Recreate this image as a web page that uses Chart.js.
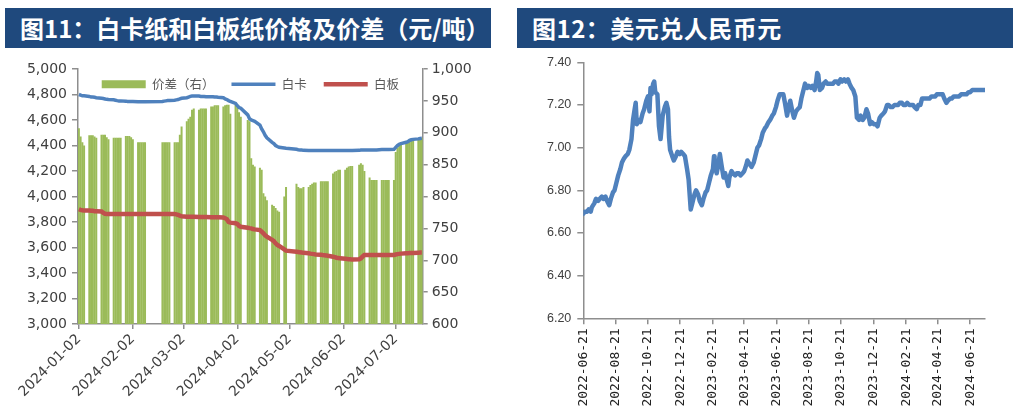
<!DOCTYPE html>
<html><head><meta charset="utf-8">
<script src="https://cdn.jsdelivr.net/npm/chart.js@4.4.1/dist/chart.umd.min.js"></script>
<style>
html,body{margin:0;padding:0;background:#fff;}
body{width:1022px;height:408px;position:relative;overflow:hidden;}
.bar{position:absolute;top:8px;height:40px;background:#1f497d;color:#fff;font-family:"Noto Sans CJK SC",sans-serif;font-weight:700;font-size:24px;line-height:40px;white-space:nowrap;box-sizing:border-box;}
#t1{left:5px;width:486px;padding-left:15px;}
#t2{left:517px;width:496px;padding-left:15px;letter-spacing:0.5px;}
.box{position:absolute;top:47px;width:510px;height:361px;}
#c1box{left:0;}
#c2box{left:512px;}
</style></head>
<body>
<div class="bar" id="t1">图11：白卡纸和白板纸价格及价差（元/吨）</div>
<div class="bar" id="t2">图12：美元兑人民币元</div>
<div class="box" id="c1box"><canvas id="c1" width="510" height="361"></canvas></div>
<div class="box" id="c2box"><canvas id="c2" width="510" height="361"></canvas></div>
<script>
// ================= Figure 11 data (one row per week, Mon..Fri; null = no quote) =================
const f11WeekStart = '2024-01-01';
const baikaWeekly = [
  [null,4800,4795,4790,4790],[4785,4780,4780,4778,4775],[4770,4768,4765,4762,4760],
  [4758,4755,4752,4750,4750],[4748,4746,4745,4745,4745],[4744,4744,4744,4744,4744],
  [null,null,null,null,null],[4745,4748,4750,4752,4752],[4755,4758,4760,4765,4770],
  [4775,4780,4785,4788,4788],[4788,4785,4785,4785,4783],[4783,4782,4780,4780,4778],
  [4775,4765,4760,4752,4745],[4730,4712,4698,4692,null],[4640,4610,4600,4595,4590],
  [4560,4530,4508,4480,4460],[4425,4415,4400,4392,4386],[4380,4378,null,null,null],
  [4370,4367,4365,4365,4362],[4360,4360,4360,4360,4360],[4360,4360,4360,4360,4360],
  [4360,4360,4360,4360,4360],[4360,4360,4360,4360,4360],[null,4362,4365,4365,4365],
  [4365,4365,4365,4365,4365],[4368,4368,4368,4368,4368],[4370,4385,4400,4410,4415],
  [4425,4430,4440,4445,4448],[4452,4455,4456]
];
const baibanWeekly = [
  [null,3900,3895,3892,3890],[3890,3888,3888,3885,3885],[3882,3872,3865,3863,3863],
  [3863,3863,3863,3863,3863],[3863,3863,3863,3863,3863],[3863,3863,3863,3863,3863],
  [null,null,null,null,null],[3863,3863,3863,3863,3863],[3862,3860,3855,3850,3845],
  [3842,3842,3842,3842,3842],[3840,3840,3840,3840,3840],[3838,3838,3838,3838,3838],
  [3835,3830,3822,3800,3795],[3790,3785,3770,3763,null],[3755,3752,3750,3745,3742],
  [3737,3725,3711,3695,3685],[3660,3650,3633,3620,3612],[3585,3575,null,null,null],
  [3567,3565,3562,3560,3558],[3555,3552,3550,3548,3545],[3543,3541,3540,3538,3535],
  [3528,3525,3520,3518,3515],[3512,3510,3508,3507,3505],[null,3508,3515,3530,3541],
  [3541,3541,3541,3541,3541],[3541,3541,3541,3541,3541],[3542,3545,3548,3550,3552],
  [3555,3555,3556,3556,3557],[3558,3560,3560]
];
const spreadWeekly = [
  [null,907,894,885,880],[896,896,896,894,892],[897,897,897,893,890],
  [892,892,892,892,892],[895,895,895,893,890],[885,885,885,885,885],
  [null,null,null,null,null],[885,885,885,885,885],[885,885,885,897,910],
  [918,922,925,936,938],[936,938,938,938,938],[941,941,943,943,943],
  [941,943,944,944,930],[944,940,932,925,null],[920,918,860,850,847],
  [845,842,805,800,794],[787,785,782,778,776],[800,815,null,null,null],
  [820,815,813,813,815],[815,818,820,822,822],[824,824,824,824,824],
  [836,839,840,842,842],[842,845,847,848,848],[null,850,852,850,840],
  [830,826,826,826,826],[826,826,826,826,826],[826,870,876,880,882],
  [886,888,890,890,890],[890,892,892]
];
const f11TickLabels = ['2024-01-02','2024-02-02','2024-03-02','2024-04-02','2024-05-02','2024-06-02','2024-07-02'];
const f11Series = ['价差（右）','白卡','白板'];

// ================= Figure 12 data =================
const fxBase = '2022-06-21';
const fxDates = [
'2022-06-21','2022-06-24','2022-06-28','2022-07-01','2022-07-05','2022-07-07','2022-07-12','2022-07-15','2022-07-19','2022-07-22',
'2022-07-26','2022-07-29','2022-08-02','2022-08-05','2022-08-09','2022-08-12','2022-08-16','2022-08-19','2022-08-23','2022-08-26',
'2022-08-30','2022-09-02','2022-09-06','2022-09-09','2022-09-13','2022-09-16','2022-09-20','2022-09-23','2022-09-26','2022-09-28',
'2022-09-30','2022-10-04','2022-10-07','2022-10-11','2022-10-14','2022-10-18','2022-10-21','2022-10-24','2022-10-26','2022-10-28',
'2022-10-31','2022-11-02','2022-11-04','2022-11-08','2022-11-11','2022-11-14','2022-11-18','2022-11-22','2022-11-25','2022-11-28',
'2022-11-30','2022-12-02','2022-12-06','2022-12-09','2022-12-13','2022-12-16','2022-12-20','2022-12-23','2022-12-27','2022-12-30',
'2023-01-03','2023-01-06','2023-01-10','2023-01-13','2023-01-17','2023-01-20','2023-01-24','2023-01-27','2023-01-31','2023-02-03',
'2023-02-07','2023-02-10','2023-02-14','2023-02-17','2023-02-21','2023-02-23','2023-02-24','2023-02-28','2023-03-03','2023-03-06',
'2023-03-09','2023-03-13','2023-03-16','2023-03-20','2023-03-22','2023-03-24','2023-03-28','2023-03-31','2023-04-04','2023-04-07',
'2023-04-11','2023-04-14','2023-04-18','2023-04-21','2023-04-25','2023-04-27','2023-05-02','2023-05-05','2023-05-09','2023-05-12',
'2023-05-16','2023-05-19','2023-05-23','2023-05-26','2023-05-30','2023-06-02','2023-06-06','2023-06-09','2023-06-13','2023-06-16',
'2023-06-20','2023-06-23','2023-06-27','2023-06-30','2023-07-04','2023-07-07','2023-07-11','2023-07-14','2023-07-17','2023-07-21',
'2023-07-24','2023-07-28','2023-07-31','2023-08-04','2023-08-07','2023-08-11','2023-08-14','2023-08-18','2023-08-21','2023-08-25',
'2023-08-28','2023-09-01','2023-09-04','2023-09-06','2023-09-08','2023-09-11','2023-09-15','2023-09-18','2023-09-22','2023-09-25',
'2023-09-29','2023-10-06','2023-10-09','2023-10-13','2023-10-16','2023-10-20','2023-10-23','2023-10-27','2023-10-30','2023-11-03',
'2023-11-06','2023-11-10','2023-11-13','2023-11-17','2023-11-20','2023-11-24','2023-11-27','2023-12-01','2023-12-04','2023-12-08',
'2023-12-11','2023-12-15','2023-12-18','2023-12-22','2023-12-26','2023-12-29','2024-01-02','2024-01-05','2024-01-09','2024-01-12',
'2024-01-16','2024-01-19','2024-01-23','2024-01-26','2024-01-30','2024-02-02','2024-02-06','2024-02-09','2024-02-13','2024-02-16',
'2024-02-20','2024-02-23','2024-02-27','2024-03-01','2024-03-05','2024-03-08','2024-03-12','2024-03-15','2024-03-19','2024-03-22',
'2024-03-26','2024-03-29','2024-04-02','2024-04-05','2024-04-09','2024-04-12','2024-04-16','2024-04-19','2024-04-23','2024-04-26',
'2024-04-30','2024-05-03','2024-05-07','2024-05-10','2024-05-14','2024-05-17','2024-05-21','2024-05-24','2024-05-28','2024-05-31',
'2024-06-04','2024-06-07','2024-06-11','2024-06-14','2024-06-18','2024-06-21','2024-06-25','2024-06-28','2024-07-02','2024-07-05',
'2024-07-09','2024-07-12','2024-07-16','2024-07-19'
];
const fxValues = [
6.69,6.70,6.70,6.71,6.70,6.72,6.74,6.76,6.75,6.76,
6.77,6.76,6.77,6.75,6.73,6.76,6.79,6.80,6.84,6.87,
6.90,6.93,6.95,6.96,6.97,6.99,7.04,7.13,7.18,7.21,
7.11,7.13,7.12,7.16,7.18,7.22,7.24,7.17,7.28,7.25,
7.30,7.31,7.26,7.25,7.10,7.04,7.15,7.19,7.21,7.18,
7.05,6.99,6.96,6.94,6.96,6.98,6.97,6.98,6.97,6.96,
6.90,6.85,6.71,6.74,6.78,6.80,6.78,6.75,6.73,6.76,
6.79,6.80,6.84,6.87,6.90,6.96,6.93,6.88,6.92,6.97,
6.92,6.86,6.88,6.84,6.82,6.86,6.89,6.88,6.87,6.88,
6.88,6.87,6.88,6.89,6.92,6.94,6.92,6.91,6.93,6.96,
7.00,7.01,7.04,7.07,7.09,7.10,7.12,7.13,7.15,7.16,
7.19,7.22,7.25,7.25,7.25,7.21,7.15,7.19,7.22,7.17,
7.14,7.17,7.18,7.19,7.23,7.27,7.30,7.28,7.29,7.28,
7.29,7.27,7.31,7.35,7.34,7.27,7.28,7.30,7.31,7.30,
7.30,7.30,7.31,7.31,7.30,7.32,7.31,7.32,7.31,7.32,
7.30,7.28,7.27,7.24,7.14,7.13,7.15,7.13,7.14,7.18,
7.16,7.11,7.12,7.11,7.11,7.10,7.14,7.15,7.16,7.17,
7.20,7.20,7.19,7.19,7.20,7.20,7.20,7.21,7.21,7.20,
7.20,7.21,7.20,7.20,7.20,7.19,7.18,7.20,7.20,7.23,
7.23,7.23,7.23,7.23,7.24,7.24,7.24,7.25,7.25,7.25,
7.25,7.23,7.21,7.22,7.23,7.23,7.24,7.24,7.24,7.24,
7.25,7.25,7.25,7.25,7.26,7.26,7.27,7.27,7.27,7.27,
7.27,7.27,7.27,7.27
];
const fxTickLabels = ['2022-06-21','2022-08-21','2022-10-21','2022-12-21','2023-02-21','2023-04-21','2023-06-21',
  '2023-08-21','2023-10-21','2023-12-21','2024-02-21','2024-04-21','2024-06-21'];
const fxLastDate = '2024-07-19';

// ================= helpers =================
function dayOffset(s, base){
  const a = s.split('-').map(Number), b = base.split('-').map(Number);
  return Math.round((Date.UTC(a[0],a[1]-1,a[2]) - Date.UTC(b[0],b[1]-1,b[2]))/86400000);
}
function weeklyPoints(weeks){
  const pts = [];
  weeks.forEach((w, wi) => w.forEach((v, di) => { if (v !== null) pts.push({x: wi*7 + di, y: v}); }));
  return pts;
}
const fmt = v => Number(v).toLocaleString('en-US');
const axisColor = '#8e8e8e';
const labelColor = '#404040';

// ================= Figure 11 =================
const f11TickDays = f11TickLabels.map(s => dayOffset(s, f11WeekStart));
const f11TickMap = {}; f11TickDays.forEach((d,i) => f11TickMap[d] = f11TickLabels[i]);

// legend is laid out horizontally (position top) but takes no space and is drawn inside the plot
const legendInside = {
  id: 'legendInside',
  beforeLayout(chart){
    const lg = chart.legend;
    if (lg && !lg._insidePatched){
      const origFit = lg.fit.bind(lg);
      lg.fit = function(){ origFit(); this._realHeight = this.height; this.height = 0; };
      lg._insidePatched = true;
    }
  },
  afterLayout(chart){
    const lg = chart.legend; if (!lg) return;
    const ca = chart.chartArea;
    lg.left = ca.left; lg.right = ca.right; lg.width = ca.right - ca.left;
    lg.top = ca.top - 8; lg.height = lg._realHeight || 40; lg.bottom = lg.top + lg.height;
  }
};

new Chart(document.getElementById('c1'), {
  type: 'bar',
  data: {
    datasets: [
      { type:'bar', label:f11Series[0], data: weeklyPoints(spreadWeekly), yAxisID:'y1',
        backgroundColor:'#9BBB59', borderWidth:0, barPercentage:1.15, categoryPercentage:1, order:3 },
      { type:'line', label:f11Series[1], data: weeklyPoints(baikaWeekly), yAxisID:'y',
        borderColor:'#4F81BD', backgroundColor:'#4F81BD', borderWidth:3.5, pointRadius:0, pointStyle:'line', order:1 },
      { type:'line', label:f11Series[2], data: weeklyPoints(baibanWeekly), yAxisID:'y',
        borderColor:'#C0504D', backgroundColor:'#C0504D', borderWidth:4.5, pointRadius:0, pointStyle:'line', order:2 }
    ]
  },
  options: {
    responsive:false, animation:false, events:[],
    layout:{ padding:{ left:0, right:0, top:22, bottom:0 } },
    plugins:{
      tooltip:{ enabled:false },
      legend:{
        position:'top', align:'center',
        labels:{
          usePointStyle:true, pointStyleWidth:44, boxHeight:8, padding:17, color:'#595959',
          font:{ family:'"Noto Sans CJK SC"', size:12.5 },
          sort:(a,b) => a.datasetIndex - b.datasetIndex,
          generateLabels(chart){
            const items = Chart.defaults.plugins.legend.labels.generateLabels(chart);
            items.forEach(it => {
              const ds = chart.data.datasets[it.datasetIndex];
              if (ds.type === 'bar') { it.pointStyle = 'rect'; it.fillStyle = ds.backgroundColor; it.lineWidth = 0; }
              else { it.pointStyle = 'line'; it.strokeStyle = ds.borderColor; it.lineWidth = ds.borderWidth; }
            });
            return items;
          }
        }
      }
    },
    scales:{
      x:{
        type:'linear', min:0.5, max:198.5, offset:false,
        afterBuildTicks: s => { s.ticks = f11TickDays.map(v => ({ value:v })); },
        ticks:{ autoSkip:false, minRotation:45, maxRotation:45, padding:2, color:labelColor,
          font:{ family:'"DejaVu Sans"', size:14 }, callback: v => f11TickMap[v] || '' },
        grid:{ offset:false, drawOnChartArea:false, tickLength:5, color:axisColor, lineWidth:1.5 },
        border:{ color:axisColor, width:1.5 },
        afterFit: s => { s.height = 84; }
      },
      y:{
        position:'left', min:3000, max:5000,
        ticks:{ stepSize:200, padding:5, color:labelColor, font:{ family:'"DejaVu Sans"', size:14 }, callback: fmt },
        grid:{ drawOnChartArea:false, tickLength:6, color:axisColor, lineWidth:1.5 },
        border:{ color:axisColor, width:1.5 },
        afterFit: s => { s.width = 78; }
      },
      y1:{
        position:'right', min:600, max:1000,
        ticks:{ stepSize:50, padding:4, color:labelColor, font:{ family:'"DejaVu Sans"', size:14 }, callback: fmt },
        grid:{ drawOnChartArea:false, tickLength:5, color:axisColor, lineWidth:1.5 },
        border:{ color:axisColor, width:1.5 },
        afterFit: s => { s.width = 87.3; }
      }
    }
  },
  plugins:[legendInside]
});

// ================= Figure 12 =================
const fxTickDays = fxTickLabels.map(s => dayOffset(s, fxBase));
const fxTickMap = {}; fxTickDays.forEach((d,i) => fxTickMap[d] = fxTickLabels[i]);

new Chart(document.getElementById('c2'), {
  type:'line',
  data:{
    datasets:[{
      label:'美元兑人民币',
      data: fxDates.map((d,i) => ({ x: dayOffset(d, fxBase), y: fxValues[i] })),
      borderColor:'#4F81BD', backgroundColor:'#4F81BD', borderWidth:4.5, pointRadius:0,
      tension:0, borderJoinStyle:'round', borderCapStyle:'round'
    }]
  },
  options:{
    responsive:false, animation:false, events:[],
    layout:{ padding:{ left:0, right:37, top:15.3, bottom:0 } },
    plugins:{ legend:{ display:false }, tooltip:{ enabled:false } },
    scales:{
      x:{
        type:'linear', min:0, max: dayOffset(fxLastDate, fxBase),
        afterBuildTicks: s => { s.ticks = fxTickDays.map(v => ({ value:v })); },
        ticks:{ autoSkip:false, minRotation:90, maxRotation:90, padding:4, labelOffset:0, color:'#222',
          font:{ family:'"DejaVu Sans Mono"', size:13 }, callback: v => fxTickMap[v] || '' },
        grid:{ drawOnChartArea:false, tickLength:6, color:axisColor, lineWidth:1.5 },
        border:{ color:axisColor, width:1.5 },
        afterFit: s => { s.height = 89.7; }
      },
      y:{
        min:6.2, max:7.4,
        ticks:{ stepSize:0.2, padding:6, color:labelColor, font:{ family:'"Liberation Sans"', size:12.5 },
          callback: v => Number(v).toFixed(2) },
        grid:{ drawOnChartArea:false, tickLength:6, color:axisColor, lineWidth:1.5 },
        border:{ color:axisColor, width:1.5 },
        afterFit: s => { s.width = 71.3; }
      }
    }
  }
});
</script>
</body></html>
